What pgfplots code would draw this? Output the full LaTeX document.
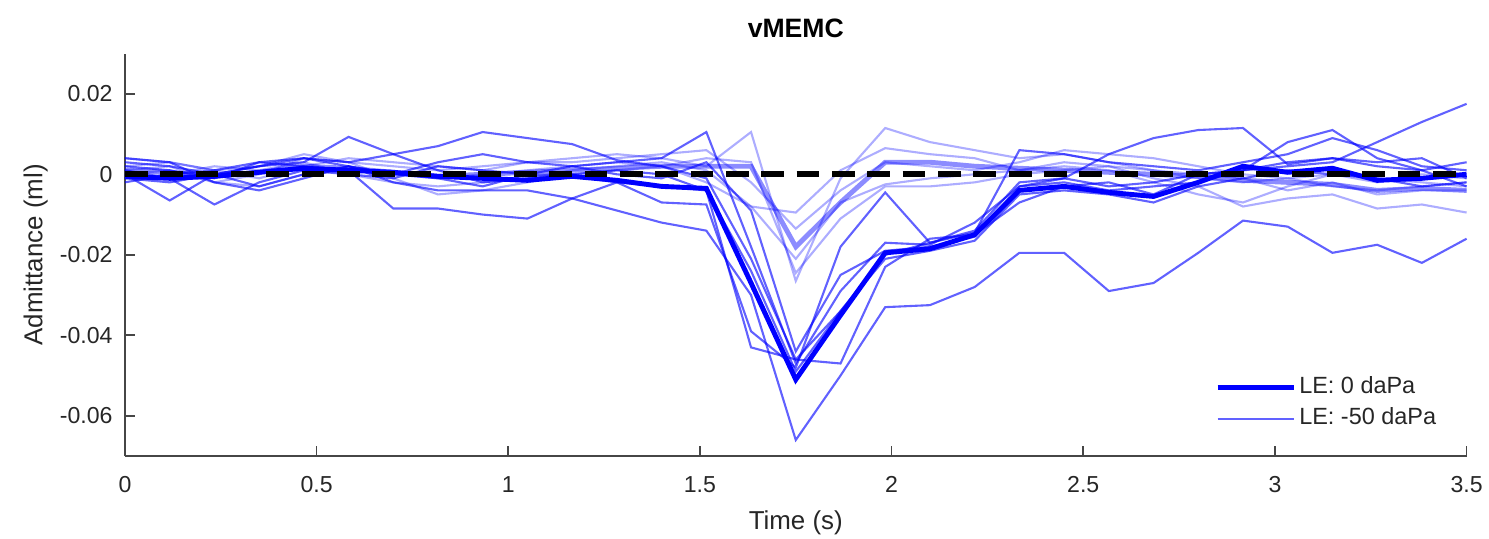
\documentclass[border=0pt]{standalone}
\usepackage{fontspec}
\setmainfont{Liberation Sans}
\usepackage{pgfplots}
\usepackage{pgfplotstable}
\pgfplotsset{compat=1.18}
\pgfplotstableread{
x      ma       mb       a1       a2       a3       a4       a5       a6       a7       b1       b2       b3       b4       b5
0      -0.0005  0.0010   -0.0010  0.0020   0.0000   0.0030   0.0010   -0.0020  0.0040   0.0020   -0.0010  0.0010   0.0040   0.0000
0.1167 -0.0010  0.0005   -0.0020  0.0010   -0.0065  0.0020   -0.0010  0.0000   0.0030   0.0030   0.0000   0.0020   0.0030   0.0010
0.2333 -0.0005  -0.0005  0.0000   -0.0010  0.0000   0.0000   -0.0075  0.0010   -0.0020  0.0010   0.0020   -0.0020  0.0010   -0.0020
0.35   0.0005   0.0005   -0.0030  0.0030   0.0020   0.0020   -0.0020  0.0030   -0.0040  -0.0010  0.0010   0.0000   0.0020   -0.0030
0.4667 0.0015   0.0020   0.0000   0.0040   0.0030   0.0040   0.0010   0.0020   -0.0010  0.0020   0.0030   0.0040   0.0050   0.0000
0.5833 0.0010   0.0015   0.0020   0.0020   0.0093   0.0030   0.0000   0.0010   0.0020   0.0040   0.0000   0.0030   0.0030   0.0010
0.7    0.0005   0.0005   -0.0020  0.0000   0.0050   0.0050   -0.0010  -0.0085  0.0000   0.0030   -0.0020  -0.0010  0.0020   0.0000
0.8167 -0.0005  -0.0005  -0.0040  -0.0010  0.0010   0.0070   0.0020   -0.0085  0.0030   0.0020   -0.0030  -0.0050  0.0010   -0.0010
0.9333 -0.0010  0.0000   -0.0040  -0.0030  -0.0020  0.0105   0.0010   -0.0100  0.0050   0.0010   -0.0020  -0.0040  0.0020   0.0000
1.05   -0.0015  0.0005   -0.0040  0.0000   -0.0010  0.0090   0.0000   -0.0110  0.0030   0.0030   -0.0010  -0.0020  0.0030   0.0010
1.1667 -0.0005  0.0010   -0.0060  0.0020   0.0000   0.0075   -0.0005  -0.0060  0.0020   0.0040   0.0010   0.0000   0.0030   0.0020
1.2833 -0.0015  0.0015   -0.0090  0.0030   0.0010   0.0035   -0.0020  -0.0020  0.0000   0.0050   0.0020   0.0010   0.0040   0.0030
1.4    -0.0030  0.0020   -0.0120  0.0040   0.0000   0.0020   -0.0070  -0.0030  -0.0010  0.0040   0.0030   0.0020   0.0050   0.0020
1.5167 -0.0035  0.0020   -0.0140  0.0105   -0.0040  -0.0010  -0.0075  -0.0040  0.0030   0.0020   0.0010   0.0040   0.0060   -0.0020
1.6333 -0.0270  0.0020   -0.0300  -0.0180  -0.0240  -0.0210  -0.0390  -0.0430  -0.0090  0.0105   -0.0080  0.0030   -0.0020  -0.0080
1.75   -0.0510  -0.0180  -0.0660  -0.0470  -0.0490  -0.0460  -0.0480  -0.0460  -0.0440  -0.0265  -0.0095  -0.0245  -0.0135  -0.0210
1.8667 -0.0350  -0.0070  -0.0500  -0.0290  -0.0340  -0.0340  -0.0180  -0.0470  -0.0250  -0.0010  0.0010   -0.0110  -0.0040  -0.0070
1.9833 -0.0195  0.0030   -0.0330  -0.0170  -0.0210  -0.0200  -0.0045  -0.0230  -0.0190  0.0115   0.0065   -0.0030  0.0030   -0.0025
2.1    -0.0185  0.0030   -0.0325  -0.0175  -0.0190  -0.0170  -0.0170  -0.0160  -0.0180  0.0080   0.0050   -0.0030  0.0020   -0.0010
2.2167 -0.0150  0.0020   -0.0280  -0.0120  -0.0165  -0.0140  -0.0145  -0.0150  -0.0155  0.0060   0.0040   -0.0020  0.0010   0.0000
2.3333 -0.0040  0.0015   -0.0195  -0.0030  -0.0050  -0.0020  0.0060   -0.0070  -0.0030  0.0040   0.0010   0.0000   0.0030   0.0010
2.45   -0.0030  0.0010   -0.0195  -0.0020  -0.0040  -0.0010  0.0050   -0.0030  -0.0010  0.0050   0.0030   0.0010   0.0060   0.0020
2.5667 -0.0045  0.0005   -0.0290  -0.0040  -0.0050  0.0050   0.0030   -0.0020  -0.0030  0.0030   0.0020   0.0020   0.0050   0.0010
2.6833 -0.0055  0.0000   -0.0270  -0.0030  -0.0070  0.0090   0.0020   -0.0050  -0.0020  0.0010   -0.0010  0.0010   0.0040   -0.0020
2.8    -0.0020  -0.0005  -0.0195  -0.0020  -0.0030  0.0110   0.0010   0.0000   0.0000   -0.0010  -0.0030  0.0000   0.0020   -0.0050
2.9167 0.0020   -0.0015  -0.0115  0.0010   -0.0010  0.0115   0.0030   0.0010   0.0010   -0.0020  -0.0080  -0.0010  0.0000   -0.0070
3.0333 0.0005   -0.0020  -0.0130  0.0030   0.0010   0.0025   0.0050   0.0080   0.0020   -0.0010  -0.0060  -0.0040  -0.0010  -0.0030
3.15   0.0015   -0.0025  -0.0195  0.0040   0.0000   0.0040   0.0090   0.0110   0.0030   -0.0030  -0.0050  -0.0020  0.0000   0.0000
3.2667 -0.0015  -0.0040  -0.0175  0.0020   -0.0010  0.0030   0.0060   0.0040   0.0080   -0.0040  -0.0085  -0.0050  -0.0020  -0.0010
3.3833 -0.0010  -0.0035  -0.0220  0.0010   -0.0030  0.0040   0.0020   0.0010   0.0130   -0.0030  -0.0075  -0.0040  0.0000   -0.0020
3.5    0.0000   -0.0040  -0.0160  0.0030   -0.0020  -0.0010  0.0010   -0.0030  0.0175   -0.0020  -0.0095  -0.0040  -0.0010  -0.0030
}\data
\definecolor{axgray}{RGB}{70,70,70}
\definecolor{txtgray}{RGB}{38,38,38}
\begin{document}
\begin{tikzpicture}
\useasboundingbox (-35.7pt,-23.4pt) rectangle (389.7pt,130.3pt);
\begin{axis}[
  anchor=south west, at={(0pt,0pt)},
  scale only axis, width=383.3pt, height=115pt,
  xmin=0, xmax=3.5, ymin=-0.07, ymax=0.03,
  axis x line*=bottom, axis y line*=left,
  axis line style={axgray, line width=0.5pt},
  every tick/.style={axgray, line width=0.5pt},
  tick align=inside, major tick length=2.9pt,
  xtick={0,0.5,1,1.5,2,2.5,3,3.5},
  ytick={-0.06,-0.04,-0.02,0,0.02},
  scaled y ticks=false,
  /pgf/number format/assume math mode=true,
  yticklabel style={/pgf/number format/fixed, /pgf/number format/precision=2},
  xticklabel style={yshift=-2.3pt},
  tick label style={font=\fontsize{6.6}{7.5}\selectfont, text=txtgray},
  xlabel={Time (s)}, ylabel={Admittance (ml)},
  label style={font=\fontsize{7.4}{8.5}\selectfont, text=txtgray},
  xlabel style={at={(axis description cs:0.5,-0.165)}, anchor=center},
  ylabel style={at={(axis description cs:-0.0665,0.5)}, anchor=center},
  title={vMEMC},
  every axis title/.style={at={(axis description cs:0.5,1.0635)}, anchor=center,
    font=\bfseries\fontsize{7.6}{9}\selectfont, text=black},
  legend style={at={(rel axis cs:0.988,0.028)}, anchor=south east, draw=none, fill=none,
    font=\fontsize{6.7}{7.5}\selectfont, text=txtgray, row sep=-1.4pt,
    nodes={inner xsep=0.9pt}},
  legend cell align=left,
  legend image code/.code={\draw[#1] (0pt,0pt) -- (21.7pt,0pt);},
  clip=false,
]
\foreach \c in {b1,b2,b3,b4,b5}{
  \addplot[blue, opacity=0.32, line width=0.6pt, forget plot] table[x=x, y=\c] {\data};
}
\foreach \c in {a1,a2,a3,a4,a5,a6,a7}{
  \addplot[blue, opacity=0.62, line width=0.6pt, forget plot] table[x=x, y=\c] {\data};
}
\addplot[blue, opacity=0.45, line width=1.4pt, forget plot] table[x=x, y=mb] {\data};
\addplot[blue, line width=1.4pt, forget plot] table[x=x, y=ma] {\data};
\addplot[black, line width=1.7pt, dash pattern=on 6.5pt off 3.6pt, forget plot] coordinates {(0,0) (3.5,0)};
\addlegendimage{blue, line width=1.4pt}
\addlegendentry{LE: 0 daPa}
\addlegendimage{blue, opacity=0.62, line width=0.6pt}
\addlegendentry{LE: -50 daPa}
\end{axis}
\end{tikzpicture}
\end{document}
